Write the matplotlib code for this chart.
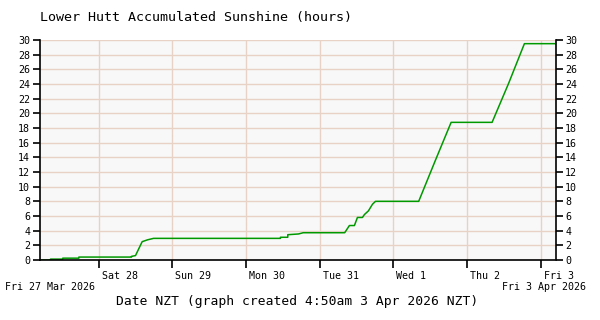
import pandas as pd
import matplotlib
matplotlib.use("Agg")
import matplotlib.pyplot as plt
import matplotlib.dates as mdates

# accumulated sunshine readings (time NZT, hours)
times = [
    "2026-03-27 04:50", "2026-03-27 08:15", "2026-03-27 08:15", "2026-03-27 12:15",
    "2026-03-27 12:15", "2026-03-27 17:30", "2026-03-27 17:30", "2026-03-28 10:40",
    "2026-03-28 10:40", "2026-03-28 11:57", "2026-03-28 14:08", "2026-03-28 15:52",
    "2026-03-28 17:50", "2026-03-30 11:11", "2026-03-30 11:11", "2026-03-30 13:35",
    "2026-03-30 13:35", "2026-03-30 17:04", "2026-03-30 18:36", "2026-03-31 08:08",
    "2026-03-31 09:40", "2026-03-31 11:18", "2026-03-31 12:17", "2026-03-31 13:55",
    "2026-03-31 14:34", "2026-03-31 15:52", "2026-03-31 17:11", "2026-03-31 18:10",
    "2026-04-01 08:15", "2026-04-01 13:42", "2026-04-01 18:49", "2026-04-02 08:10",
    "2026-04-02 13:34", "2026-04-02 18:42", "2026-04-03 04:50",
]
sunshine = [
    0.0, 0.0, 0.12, 0.12,
    0.25, 0.25, 0.4, 0.4,
    0.5, 0.6, 2.5, 2.75,
    2.95, 2.95, 3.1, 3.1,
    3.45, 3.55, 3.72, 3.72,
    4.7, 4.7, 5.8, 5.8,
    6.2, 6.7, 7.6, 8.0,
    8.0, 13.6, 18.77, 18.77,
    24.1, 29.5, 29.5,
]
day_ticks = ["2026-03-28", "2026-03-29", "2026-03-30", "2026-03-31",
             "2026-04-01", "2026-04-02", "2026-04-03"]
day_labels = ["Sat 28", "Sun 29", "Mon 30", "Tue 31", "Wed 1", "Thu 2", "Fri 3"]
x_start = "2026-03-27 04:50"
x_end = "2026-04-03 04:50"

t = pd.to_datetime(times)
ticks = pd.to_datetime(day_ticks)

mono = "DejaVu Sans Mono"
grid_col = "#e8d2c6"

fig = plt.figure(figsize=(6, 3.2), dpi=100)
ax = fig.add_axes([40 / 600, 60 / 320, 515.5 / 600, 220 / 320])
ax.set_facecolor("#f8f8f8")

ax.plot(t, sunshine, color="#009900", lw=1.1)

ax.set_xlim(pd.Timestamp(x_start), pd.Timestamp(x_end))
ax.set_ylim(0, 30)
ax.set_yticks(range(0, 31, 2))
ax.set_xticks(ticks)
ax.set_xticklabels(day_labels, family=mono, fontsize=7.2, ha="left")
for lab in ax.get_xticklabels():
    lab.set_x(0)

# grid
for yv in range(2, 31, 2):
    ax.axhline(yv, color=grid_col, lw=1, zorder=0)
for tk in ticks:
    ax.axvline(tk, color=grid_col, lw=1, zorder=0)

for s in ["left", "right", "bottom"]:
    ax.spines[s].set_color("black")
    ax.spines[s].set_linewidth(1.2)
ax.spines["top"].set_visible(False)

ax.tick_params(axis="y", which="both", left=True, right=True, labelleft=True,
               labelright=True, length=5, width=1.2, direction="out",
               labelsize=7.2, pad=2)
ax.tick_params(axis="x", length=6, width=1.2, direction="out", pad=2)
for lab in ax.get_yticklabels():
    lab.set_family(mono)

# shift day labels slightly to the right of their tick
import matplotlib.transforms as mtrans
offset = mtrans.ScaledTranslation(3 / 100, 0, fig.dpi_scale_trans)
for lab in ax.get_xticklabels():
    lab.set_transform(lab.get_transform() + offset)

fig.text(40 / 600, 1 - 18 / 320, "Lower Hutt Accumulated Sunshine (hours)",
         family=mono, fontsize=9.6, va="center", ha="left")
fig.text(5 / 600, 1 - 287 / 320, "Fri 27 Mar 2026", family=mono,
         fontsize=7.2, va="center", ha="left")
fig.text(586 / 600, 1 - 287 / 320, "Fri 3 Apr 2026", family=mono,
         fontsize=7.2, va="center", ha="right")
fig.text(297 / 600, 1 - 302 / 320,
         "Date NZT (graph created 4:50am 3 Apr 2026 NZT)",
         family=mono, fontsize=9.4, va="center", ha="center")

fig.savefig("out.png", dpi=100)
